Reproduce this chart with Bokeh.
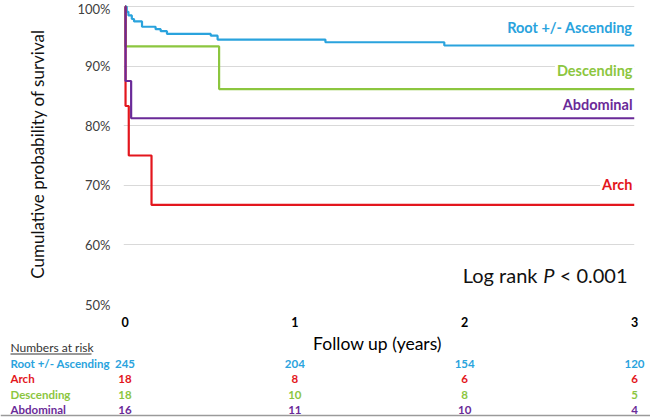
from bokeh.plotting import figure
from bokeh.models import Range1d, Label, FixedTicker
from bokeh.layouts import column
from bokeh.embed import file_html
from bokeh.resources import INLINE
from bokeh.core.properties import value

# ---------------- data ----------------
groups = ["Root +/- Ascending", "Arch", "Descending", "Abdominal"]
colors = ["#2aa3dd", "#e3161d", "#8cc63f", "#6a2a98"]

root_t = [0, 0.01, 0.02, 0.04, 0.053, 0.10, 0.18, 0.21, 0.247, 0.505, 0.545, 1.18, 1.88]
root_s = [100, 99.1, 98.5, 97.9, 97.5, 96.6, 96.2, 95.85, 95.4, 95.1, 94.45, 94.0, 93.45]

arch_t = [0, 0.003, 0.022, 0.156]
arch_s = [100, 83.3, 75.0, 66.7]

desc_t = [0, 0.003, 0.554]
desc_s = [100, 93.3, 86.15]

abd_t = [0, 0.003, 0.036]
abd_s = [100, 87.5, 81.25]

end_time = 3.0

label_y = [96.5, 70.1, 89.3, 83.6]   # curve-end label heights (%)

y_ticks = [50, 60, 70, 80, 90, 100]
y_tick_labels = ["50%", "60%", "70%", "80%", "90%", "100%"]
x_ticks = [0, 1, 2, 3]

risk_times = [0, 1, 2, 3]
risk_root = [245, 204, 154, 120]
risk_arch = [18, 8, 6, 6]
risk_desc = [18, 10, 8, 5]
risk_abd = [16, 11, 10, 4]

# ---------------- layout ----------------
W = 650
H1, H2 = 333, 85
BL, BR, BT = 123, 16, 3
FH = 301
X0, X1 = -0.009, 3.0
Y0, Y1 = 50, 100.5
FW = W - BL - BR
px_t = FW / (X1 - X0)

def px_to_t(px):
    return X0 + (px - BL) / px_t

FONT = "Lato"

p = figure(width=W, height=H1, output_backend="svg", toolbar_location=None,
           x_range=Range1d(X0, X1), y_range=Range1d(Y0, Y1),
           min_border_left=BL, min_border_right=BR, min_border_top=BT,
           min_border_bottom=H1 - BT - FH)
p.frame_align = False
p.outline_line_color = None
p.xgrid.grid_line_color = None
p.ygrid.grid_line_color = "#d9d9d9"
p.ygrid.grid_line_width = 1

p.yaxis.ticker = FixedTicker(ticks=y_ticks)
p.yaxis.major_label_overrides = {t: l for t, l in zip(y_ticks, y_tick_labels)}
p.xaxis.ticker = FixedTicker(ticks=x_ticks)
for ax in (p.xaxis, p.yaxis):
    ax.axis_line_color = None
    ax.major_tick_line_color = None
    ax.minor_tick_line_color = None
    ax.major_tick_out = 0
    ax.major_tick_in = 0
    ax.minor_tick_out = 0
    ax.major_label_text_font = FONT
p.yaxis.major_label_text_font_size = "13px"
p.yaxis.major_label_text_color = "#404040"
p.yaxis.major_label_standoff = 13
p.yaxis.axis_label = "Cumulative probability of survival"
p.yaxis.axis_label_text_font = FONT
p.yaxis.axis_label_text_font_style = "normal"
p.yaxis.axis_label_text_font_size = "17px"
p.yaxis.axis_label_text_color = "#111111"
p.yaxis.axis_label_standoff = 26

p.xaxis.major_label_text_font_size = "12.5px"
p.xaxis.major_label_text_font_style = "bold"
p.xaxis.major_label_text_color = "#000000"
p.xaxis.major_label_standoff = 12

series = [(root_t, root_s, 0), (desc_t, desc_s, 2), (arch_t, arch_s, 1), (abd_t, abd_s, 3)]
for t, s, i in series:
    xs = list(t) + [end_time]
    ys = list(s) + [s[-1]]
    p.step(xs, ys, mode="after", line_color=colors[i], line_width=2.2)

# curve-end labels
for i, g in enumerate(groups):
    p.add_layout(Label(x=end_time, y=label_y[i], text=g, text_align="right",
                       text_baseline="middle", text_font=FONT, text_font_size="14.5px",
                       text_font_style="bold", text_color=colors[i],
                       background_fill_color="white", padding=2))

# Log rank P < 0.001
lr_x = px_to_t(627)
lr_y = 54.9
p.add_layout(Label(x=lr_x, y=lr_y, text="< 0.001", text_align="right", text_baseline="middle",
                   text_font=FONT, text_font_size="20px", text_color="#111111"))
p.add_layout(Label(x=lr_x, y=lr_y, x_offset=-73, text="P", text_align="right", text_baseline="middle",
                   text_font=FONT, text_font_size="20px", text_font_style="italic", text_color="#111111"))
p.add_layout(Label(x=lr_x, y=lr_y, x_offset=-90, text="Log rank", text_align="right", text_baseline="middle",
                   text_font=FONT, text_font_size="20px", text_color="#111111"))

# ---------------- lower panel: axis title + numbers at risk ----------------
q = figure(width=W, height=H2, output_backend="svg", toolbar_location=None,
           x_range=Range1d(px_to_t(0), px_to_t(W)), y_range=Range1d(H2, 0),
           min_border_left=0, min_border_right=0, min_border_top=0, min_border_bottom=0)
q.frame_align = False
q.outline_line_color = None
q.axis.visible = False
q.grid.visible = False

q.text(x=[px_to_t(377)], y=[10], text=["Follow up (years)"], text_align="center",
       text_baseline="middle", text_font=value(FONT), text_font_size="17.5px", text_color="#000000")

left_x = px_to_t(10)
q.text(x=[left_x], y=[14], text=["Numbers at risk"], text_align="left", text_baseline="middle",
       text_font=value(FONT), text_font_size="12px", text_color="#333333")
q.segment(x0=[left_x], y0=[20.5], x1=[px_to_t(91)], y1=[20.5], line_color="#333333", line_width=1)

rows = [risk_root, risk_arch, risk_desc, risk_abd]
row_y = [30, 45, 61, 76]
for r, (vals, g) in enumerate(zip(rows, groups)):
    q.text(x=[left_x], y=[row_y[r]], text=[g], text_align="left", text_baseline="middle",
           text_font=value(FONT), text_font_size="11.5px", text_font_style="bold", text_color=colors[r])
    q.text(x=risk_times, y=[row_y[r]] * len(vals), text=[str(v) for v in vals], text_align="center",
           text_baseline="middle", text_font=value(FONT), text_font_size="11.5px",
           text_font_style="bold", text_color=colors[r])

# bottom border line of the figure image
q.segment(x0=[px_to_t(0)], y0=[82], x1=[px_to_t(W)], y1=[82], line_color="#9a9a9a", line_width=1.5)

layout = column(p, q, spacing=0)
open("out.html", "w").write(file_html(layout, INLINE))
